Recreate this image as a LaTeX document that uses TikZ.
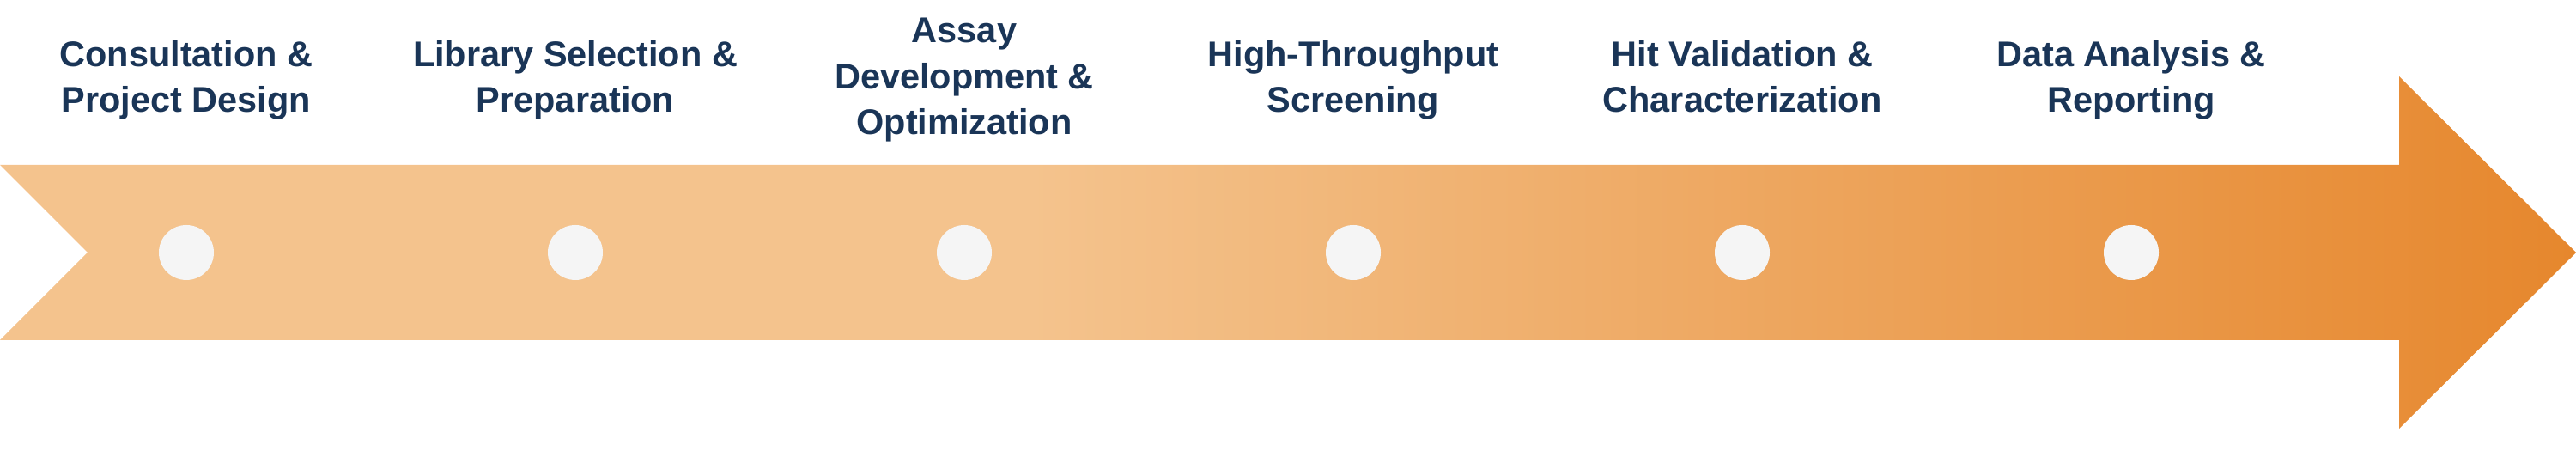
\documentclass[tikz,border=0pt]{standalone}
\usepackage{fontspec}
\setmainfont{Liberation Sans}
\usepackage{xcolor}

\definecolor{peach}{HTML}{F4C38D}
\definecolor{deeporange}{HTML}{E6872D}
\definecolor{navy}{HTML}{1A3557}
\definecolor{dotgray}{HTML}{F5F5F5}
\pgfdeclarehorizontalshading{arrowfade}{100bp}{color(0bp)=(peach); color(45bp)=(peach); color(75bp)=(deeporange); color(100bp)=(deeporange)}

\begin{document}
\begin{tikzpicture}
\tikzset{stage/.style={text=navy,font=\bfseries\fontsize{11.8pt}{15.3pt}\selectfont,align=center,execute at begin node=\strut,execute at end node=\strut}}
\tikzset{milestone/.style={circle,fill=dotgray,minimum size=0.64cm,inner sep=0pt}}

\useasboundingbox (0,0) rectangle (30,5.32);

\shade[shading=arrowfade] (0,3.40) -- (27.94,3.40) -- (27.94,4.43) -- (30,2.38) -- (27.94,0.33) -- (27.94,1.36) -- (0,1.36) -- (1.02,2.38) -- cycle;

\foreach \x/\txt [count=\i] in {2.17/{Consultation \&\\Project Design}, 6.70/{Library Selection \&\\Preparation}, 11.23/{Assay\\Development \&\\Optimization}, 15.76/{High-Throughput\\Screening}, 20.29/{Hit Validation \&\\Characterization}, 24.82/{Data Analysis \&\\Reporting}}
{
  \node[milestone] (dot\i) at (\x,2.38) {};
  \node[stage] (lab\i) at (\x,4.35) {\txt};
}

\end{tikzpicture}
\end{document}
